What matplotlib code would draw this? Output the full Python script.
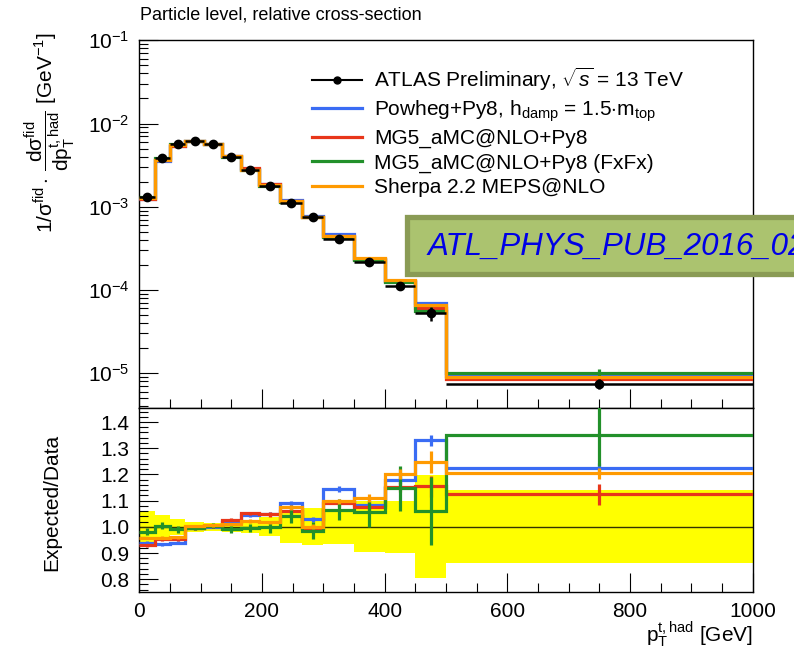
import numpy as np
import matplotlib
matplotlib.use("Agg")
import matplotlib.pyplot as plt
from matplotlib.lines import Line2D
from matplotlib.patches import Rectangle
from matplotlib.ticker import MultipleLocator, LogLocator, NullFormatter

plt.rcParams['font.family'] = ['Liberation Sans', 'DejaVu Sans']
plt.rcParams['mathtext.fontset'] = 'custom'
plt.rcParams['mathtext.rm'] = 'Liberation Sans'
plt.rcParams['mathtext.it'] = 'Liberation Sans:italic'
plt.rcParams['mathtext.sf'] = 'Liberation Sans'
plt.rcParams['mathtext.bf'] = 'Liberation Sans:bold'

# ---------------- data ----------------
bin_edges = [0, 25, 50, 75, 105, 135, 165, 195, 230, 265, 300, 350, 400, 450, 500, 1000]
data_values = [1.32e-3, 3.82e-3, 5.67e-3, 6.21e-3, 5.62e-3, 3.99e-3, 2.74e-3, 1.79e-3,
               1.10e-3, 7.59e-4, 4.06e-4, 2.18e-4, 1.10e-4, 5.24e-5, 7.5e-6]
data_rel_unc = [0.06, 0.045, 0.03, 0.018, 0.015, 0.018, 0.022, 0.037,
                0.063, 0.07, 0.067, 0.098, 0.1, 0.197, 0.14]

ratio_powheg = [0.94, 0.933, 0.94, 0.995, 1.0, 1.02, 1.045, 1.05, 1.089, 1.028, 1.144, 1.083, 1.178, 1.33, 1.225]
ratio_mg5 = [0.93, 0.952, 0.952, 0.995, 1.003, 1.027, 1.051, 1.047, 1.06, 0.996, 1.089, 1.075, 1.152, 1.155, 1.125]
ratio_fxfx = [0.982, 1.004, 0.99, 0.997, 1.004, 0.99, 0.996, 0.998, 1.042, 0.985, 1.066, 1.057, 1.147, 1.061, 1.349]
ratio_sherpa = [0.957, 0.958, 0.96, 1.003, 1.005, 1.01, 1.022, 1.017, 1.074, 1.001, 1.098, 1.11, 1.201, 1.246, 1.204]

err_powheg = [0.005, 0.005, 0.005, 0.005, 0.005, 0.005, 0.006, 0.007, 0.008, 0.01, 0.01, 0.012, 0.015, 0.022, 0.02]
err_mg5 = [0.006, 0.006, 0.006, 0.006, 0.006, 0.006, 0.007, 0.008, 0.01, 0.012, 0.012, 0.015, 0.02, 0.04, 0.04]
err_fxfx = [0.013, 0.013, 0.012, 0.01, 0.01, 0.012, 0.015, 0.02, 0.029, 0.033, 0.04, 0.057, 0.085, 0.13, 0.115]
err_sherpa = [0.005, 0.005, 0.005, 0.005, 0.005, 0.005, 0.006, 0.007, 0.008, 0.01, 0.01, 0.015, 0.02, 0.042, 0.02]

labels = ["Powheg+Py8, h$_{\\mathrm{damp}}$ = 1.5$\\cdot$m$_{\\mathrm{top}}$",
          "MG5_aMC@NLO+Py8",
          "MG5_aMC@NLO+Py8 (FxFx)",
          "Sherpa 2.2 MEPS@NLO"]
colors = ['#3a6cf4', '#e8361a', '#22902a', '#ff9a00']
ratios = [ratio_powheg, ratio_mg5, ratio_fxfx, ratio_sherpa]
errs = [err_powheg, err_mg5, err_fxfx, err_sherpa]

edges = np.array(bin_edges, float)
centers = 0.5 * (edges[1:] + edges[:-1])
halfw = 0.5 * (edges[1:] - edges[:-1])
dv = np.array(data_values)
du = np.array(data_rel_unc)

# ---------------- figure ----------------
W, H = 794, 652
fig = plt.figure(figsize=(W / 100, H / 100), dpi=100)

def fx(px):
    return px / W

def fy(py):
    return 1 - py / H

L, R = 139.3, 752.7
ax = fig.add_axes([fx(L), fy(408), fx(R) - fx(L), (408 - 40.3) / H])
axr = fig.add_axes([fx(L), fy(592.3), fx(R) - fx(L), (592.3 - 408) / H])

LW = 2.3
for r, e, c in zip(ratios, errs, colors):
    mc = dv * np.array(r)
    ax.stairs(mc, edges, baseline=None, color=c, lw=LW, zorder=3)
    ax.errorbar(centers, mc, yerr=mc * np.array(e), fmt='none', ecolor=c, elinewidth=LW, zorder=3)

ax.errorbar(centers, dv, xerr=halfw, yerr=dv * du, fmt='o', color='black', ms=6,
            elinewidth=1.8, capsize=0, zorder=5)

ax.set_yscale('log')
ax.set_xlim(0, 1000)
ax.set_ylim(10 ** -5.419, 0.1)
ax.yaxis.set_major_locator(LogLocator(base=10, numticks=10))
ax.yaxis.set_minor_locator(LogLocator(base=10, subs=np.arange(2, 10), numticks=20))
ax.yaxis.set_minor_formatter(NullFormatter())
ax.xaxis.set_major_locator(MultipleLocator(200))
ax.xaxis.set_minor_locator(MultipleLocator(50))
ax.set_xticklabels([])

# ratio panel
axr.stairs(1 + du, edges, baseline=1 - du, fill=True, color='#ffff00', lw=0, zorder=1)
axr.axhline(1.0, color='#333300', lw=1.0, zorder=2)
for r, e, c in zip(ratios, errs, colors):
    axr.stairs(r, edges, baseline=None, color=c, lw=LW, zorder=3)
    axr.errorbar(centers, r, yerr=e, fmt='none', ecolor=c, elinewidth=LW, zorder=3)
axr.set_xlim(0, 1000)
axr.set_ylim(0.75, 1.4535)
axr.yaxis.set_major_locator(MultipleLocator(0.1))
axr.yaxis.set_minor_locator(MultipleLocator(0.02))
axr.xaxis.set_major_locator(MultipleLocator(200))
axr.xaxis.set_minor_locator(MultipleLocator(50))
axr.set_yticks([0.8, 0.9, 1.0, 1.1, 1.2, 1.3, 1.4])
axr.set_yticklabels(['0.8', '0.9', '1.0', '1.1', '1.2', '1.3', '1.4'])

for a in (ax, axr):
    a.tick_params(which='both', direction='in', top=False, right=False, labelsize=15, pad=7)
    a.tick_params(which='major', length=13.5, width=0.8)
    a.tick_params(which='minor', length=6.5, width=0.8)
    for s in a.spines.values():
        s.set_linewidth(1.0)

# labels
ax.set_ylabel(r"1/$\mathrm{σ}^{\mathrm{fid}}\cdot\,\dfrac{\mathrm{dσ}^{\mathrm{fid}}}{\mathrm{dp}_{\mathrm{T}}^{\mathrm{t,had}}}$ [GeV$^{-1}$]",
              fontsize=15)
ax.yaxis.label.set_ha('right')
ax.yaxis.label.set_va('center')
ax.yaxis.set_label_coords(-0.1456, 1.0226)

axr.set_ylabel("Expected/Data", fontsize=15)
axr.yaxis.label.set_ha('center')
axr.yaxis.label.set_va('center')
axr.yaxis.set_label_coords(-0.142, 0.49)

axr.set_xlabel(r"p$_{\mathrm{T}}^{\mathrm{t,had}}$ [GeV]", fontsize=15)
axr.xaxis.label.set_ha('right')
axr.xaxis.label.set_va('center')
axr.xaxis.set_label_coords(1.0, -0.232)

fig.text(fx(140), fy(15), "Particle level, relative cross-section", fontsize=13,
         ha='left', va='center')

# legend
handles = [Line2D([], [], color='black', marker='o', ms=5, lw=1.5)]
handles += [Line2D([], [], color=c, lw=LW) for c in colors]
leg_labels = [r"ATLAS Preliminary, $\sqrt{s}$ = 13 TeV"] + labels
ax.legend(handles, leg_labels, loc='upper left', bbox_to_anchor=(fx(312), fy(66)),
          bbox_transform=fig.transFigure, frameon=False, fontsize=15,
          handlelength=2.4, handletextpad=0.6, labelspacing=0.25, borderpad=0,
          borderaxespad=0)

# stamp box
box = Rectangle((fx(406.5), fy(274.3)), fx(800) - fx(406.5), (274.3 - 216.5) / H,
                transform=fig.transFigure, facecolor='#abc36f', edgecolor='#8a9b55',
                lw=3.8, zorder=10)
fig.add_artist(box)
fig.text(fx(428), fy(255), "ATL_PHYS_PUB_2016_020", color='#0000e6', style='italic',
         fontsize=22.5, ha='left', va='baseline', zorder=11)

fig.savefig("out.png", dpi=100)
